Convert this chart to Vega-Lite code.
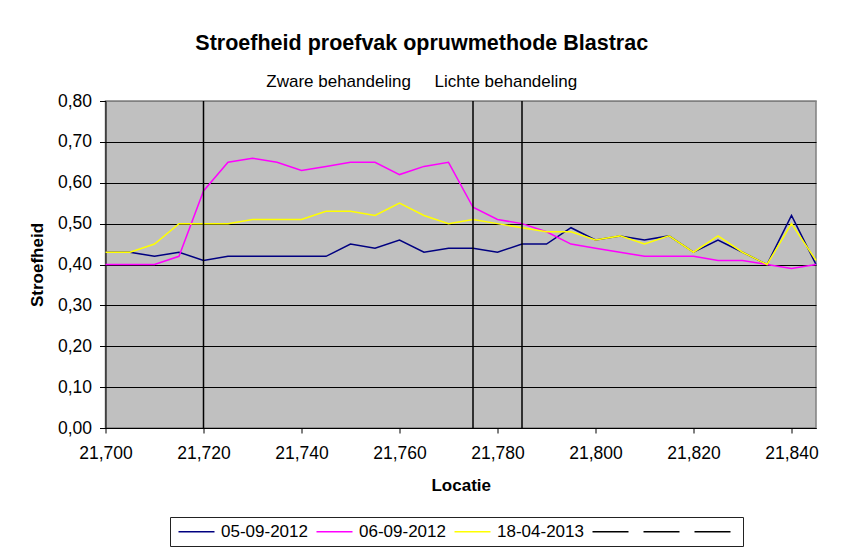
{
  "$schema": "https://vega.github.io/schema/vega-lite/v6.json",
  "autosize": "none",
  "width": 710.5,
  "height": 327,
  "padding": {"left": 105.5, "top": 101, "right": 29, "bottom": 122},
  "background": "white",
  "config": {
    "font": "Liberation Sans",
    "view": {"fill": "#c0c0c0", "stroke": "#808080", "strokeWidth": 1.5}
  },
  "title": {
    "text": "Stroefheid proefvak opruwmethode Blastrac",
    "subtitle": "Zware behandeling\u00a0\u00a0\u00a0\u00a0\u00a0Lichte behandeling",
    "anchor": "middle",
    "frame": "group",
    "dx": -39,
    "font": "Liberation Sans",
    "fontSize": 21.5,
    "fontWeight": "bold",
    "color": "black",
    "subtitleFont": "Liberation Sans",
    "subtitleFontSize": 17,
    "subtitleColor": "black",
    "subtitlePadding": 20,
    "offset": 2
  },
  "layer": [
    {
      "data": {"values": [
        {"Locatie": 21700, "Stroefheid": 0.43, "serie": "05-09-2012"},
        {"Locatie": 21705, "Stroefheid": 0.43, "serie": "05-09-2012"},
        {"Locatie": 21710, "Stroefheid": 0.42, "serie": "05-09-2012"},
        {"Locatie": 21715, "Stroefheid": 0.43, "serie": "05-09-2012"},
        {"Locatie": 21720, "Stroefheid": 0.41, "serie": "05-09-2012"},
        {"Locatie": 21725, "Stroefheid": 0.42, "serie": "05-09-2012"},
        {"Locatie": 21730, "Stroefheid": 0.42, "serie": "05-09-2012"},
        {"Locatie": 21735, "Stroefheid": 0.42, "serie": "05-09-2012"},
        {"Locatie": 21740, "Stroefheid": 0.42, "serie": "05-09-2012"},
        {"Locatie": 21745, "Stroefheid": 0.42, "serie": "05-09-2012"},
        {"Locatie": 21750, "Stroefheid": 0.45, "serie": "05-09-2012"},
        {"Locatie": 21755, "Stroefheid": 0.44, "serie": "05-09-2012"},
        {"Locatie": 21760, "Stroefheid": 0.46, "serie": "05-09-2012"},
        {"Locatie": 21765, "Stroefheid": 0.43, "serie": "05-09-2012"},
        {"Locatie": 21770, "Stroefheid": 0.44, "serie": "05-09-2012"},
        {"Locatie": 21775, "Stroefheid": 0.44, "serie": "05-09-2012"},
        {"Locatie": 21780, "Stroefheid": 0.43, "serie": "05-09-2012"},
        {"Locatie": 21785, "Stroefheid": 0.45, "serie": "05-09-2012"},
        {"Locatie": 21790, "Stroefheid": 0.45, "serie": "05-09-2012"},
        {"Locatie": 21795, "Stroefheid": 0.49, "serie": "05-09-2012"},
        {"Locatie": 21800, "Stroefheid": 0.46, "serie": "05-09-2012"},
        {"Locatie": 21805, "Stroefheid": 0.47, "serie": "05-09-2012"},
        {"Locatie": 21810, "Stroefheid": 0.46, "serie": "05-09-2012"},
        {"Locatie": 21815, "Stroefheid": 0.47, "serie": "05-09-2012"},
        {"Locatie": 21820, "Stroefheid": 0.43, "serie": "05-09-2012"},
        {"Locatie": 21825, "Stroefheid": 0.46, "serie": "05-09-2012"},
        {"Locatie": 21830, "Stroefheid": 0.43, "serie": "05-09-2012"},
        {"Locatie": 21835, "Stroefheid": 0.40, "serie": "05-09-2012"},
        {"Locatie": 21840, "Stroefheid": 0.52, "serie": "05-09-2012"},
        {"Locatie": 21845, "Stroefheid": 0.40, "serie": "05-09-2012"},
        {"Locatie": 21700, "Stroefheid": 0.40, "serie": "06-09-2012"},
        {"Locatie": 21705, "Stroefheid": 0.40, "serie": "06-09-2012"},
        {"Locatie": 21710, "Stroefheid": 0.40, "serie": "06-09-2012"},
        {"Locatie": 21715, "Stroefheid": 0.42, "serie": "06-09-2012"},
        {"Locatie": 21720, "Stroefheid": 0.58, "serie": "06-09-2012"},
        {"Locatie": 21725, "Stroefheid": 0.65, "serie": "06-09-2012"},
        {"Locatie": 21730, "Stroefheid": 0.66, "serie": "06-09-2012"},
        {"Locatie": 21735, "Stroefheid": 0.65, "serie": "06-09-2012"},
        {"Locatie": 21740, "Stroefheid": 0.63, "serie": "06-09-2012"},
        {"Locatie": 21745, "Stroefheid": 0.64, "serie": "06-09-2012"},
        {"Locatie": 21750, "Stroefheid": 0.65, "serie": "06-09-2012"},
        {"Locatie": 21755, "Stroefheid": 0.65, "serie": "06-09-2012"},
        {"Locatie": 21760, "Stroefheid": 0.62, "serie": "06-09-2012"},
        {"Locatie": 21765, "Stroefheid": 0.64, "serie": "06-09-2012"},
        {"Locatie": 21770, "Stroefheid": 0.65, "serie": "06-09-2012"},
        {"Locatie": 21775, "Stroefheid": 0.54, "serie": "06-09-2012"},
        {"Locatie": 21780, "Stroefheid": 0.51, "serie": "06-09-2012"},
        {"Locatie": 21785, "Stroefheid": 0.50, "serie": "06-09-2012"},
        {"Locatie": 21790, "Stroefheid": 0.48, "serie": "06-09-2012"},
        {"Locatie": 21795, "Stroefheid": 0.45, "serie": "06-09-2012"},
        {"Locatie": 21800, "Stroefheid": 0.44, "serie": "06-09-2012"},
        {"Locatie": 21805, "Stroefheid": 0.43, "serie": "06-09-2012"},
        {"Locatie": 21810, "Stroefheid": 0.42, "serie": "06-09-2012"},
        {"Locatie": 21815, "Stroefheid": 0.42, "serie": "06-09-2012"},
        {"Locatie": 21820, "Stroefheid": 0.42, "serie": "06-09-2012"},
        {"Locatie": 21825, "Stroefheid": 0.41, "serie": "06-09-2012"},
        {"Locatie": 21830, "Stroefheid": 0.41, "serie": "06-09-2012"},
        {"Locatie": 21835, "Stroefheid": 0.40, "serie": "06-09-2012"},
        {"Locatie": 21840, "Stroefheid": 0.39, "serie": "06-09-2012"},
        {"Locatie": 21845, "Stroefheid": 0.40, "serie": "06-09-2012"},
        {"Locatie": 21700, "Stroefheid": 0.43, "serie": "18-04-2013"},
        {"Locatie": 21705, "Stroefheid": 0.43, "serie": "18-04-2013"},
        {"Locatie": 21710, "Stroefheid": 0.45, "serie": "18-04-2013"},
        {"Locatie": 21715, "Stroefheid": 0.50, "serie": "18-04-2013"},
        {"Locatie": 21720, "Stroefheid": 0.50, "serie": "18-04-2013"},
        {"Locatie": 21725, "Stroefheid": 0.50, "serie": "18-04-2013"},
        {"Locatie": 21730, "Stroefheid": 0.51, "serie": "18-04-2013"},
        {"Locatie": 21735, "Stroefheid": 0.51, "serie": "18-04-2013"},
        {"Locatie": 21740, "Stroefheid": 0.51, "serie": "18-04-2013"},
        {"Locatie": 21745, "Stroefheid": 0.53, "serie": "18-04-2013"},
        {"Locatie": 21750, "Stroefheid": 0.53, "serie": "18-04-2013"},
        {"Locatie": 21755, "Stroefheid": 0.52, "serie": "18-04-2013"},
        {"Locatie": 21760, "Stroefheid": 0.55, "serie": "18-04-2013"},
        {"Locatie": 21765, "Stroefheid": 0.52, "serie": "18-04-2013"},
        {"Locatie": 21770, "Stroefheid": 0.50, "serie": "18-04-2013"},
        {"Locatie": 21775, "Stroefheid": 0.51, "serie": "18-04-2013"},
        {"Locatie": 21780, "Stroefheid": 0.50, "serie": "18-04-2013"},
        {"Locatie": 21785, "Stroefheid": 0.49, "serie": "18-04-2013"},
        {"Locatie": 21790, "Stroefheid": 0.48, "serie": "18-04-2013"},
        {"Locatie": 21795, "Stroefheid": 0.48, "serie": "18-04-2013"},
        {"Locatie": 21800, "Stroefheid": 0.46, "serie": "18-04-2013"},
        {"Locatie": 21805, "Stroefheid": 0.47, "serie": "18-04-2013"},
        {"Locatie": 21810, "Stroefheid": 0.45, "serie": "18-04-2013"},
        {"Locatie": 21815, "Stroefheid": 0.47, "serie": "18-04-2013"},
        {"Locatie": 21820, "Stroefheid": 0.43, "serie": "18-04-2013"},
        {"Locatie": 21825, "Stroefheid": 0.47, "serie": "18-04-2013"},
        {"Locatie": 21830, "Stroefheid": 0.43, "serie": "18-04-2013"},
        {"Locatie": 21835, "Stroefheid": 0.40, "serie": "18-04-2013"},
        {"Locatie": 21840, "Stroefheid": 0.50, "serie": "18-04-2013"},
        {"Locatie": 21845, "Stroefheid": 0.41, "serie": "18-04-2013"}
      ]},
      "mark": {"type": "line", "strokeWidth": 1.5},
      "encoding": {
        "x": {
          "field": "Locatie", "type": "quantitative",
          "scale": {"domain": [21700, 21845], "nice": false, "zero": false},
          "axis": {
            "values": [21700, 21720, 21740, 21760, 21780, 21800, 21820, 21840],
            "format": ",d",
            "grid": false,
            "domainColor": "black",
            "domainWidth": 1,
            "tickColor": "black",
            "tickSize": 5,
            "labelFontSize": 17.5,
            "labelColor": "black",
            "labelPadding": 11,
            "labelFlush": false,
            "title": "Locatie",
            "titleFontSize": 17,
            "titleFontWeight": "bold",
            "titleColor": "black",
            "titlePadding": 16
          }
        },
        "y": {
          "field": "Stroefheid", "type": "quantitative",
          "scale": {"domain": [0, 0.8], "nice": false},
          "axis": {
            "values": [0, 0.1, 0.2, 0.3, 0.4, 0.5, 0.6, 0.7, 0.8],
            "labelExpr": "replace(format(datum.value, '.2f'), '.', ',')",
            "grid": true,
            "gridColor": {"condition": {"test": "datum.value >= 0.79", "value": "#808080"}, "value": "black"},
            "gridWidth": 1.2,
            "gridOpacity": 1,
            "domainColor": "black",
            "domainWidth": 1,
            "tickColor": "black",
            "tickSize": 6,
            "labelFontSize": 17.5,
            "labelColor": "black",
            "labelPadding": 8,
            "labelFlush": false,
            "title": "Stroefheid",
            "titleFontSize": 17,
            "titleFontWeight": "bold",
            "titleColor": "black",
            "titlePadding": 11
          }
        },
        "color": {
          "field": "serie", "type": "nominal",
          "scale": {
            "domain": ["05-09-2012", "06-09-2012", "18-04-2013", "r1", "r2", "r3"],
            "range": ["#000080", "#ff00ff", "#ffff00", "#000000", "#000000", "#000000"]
          },
          "legend": {
            "title": null,
            "orient": "none",
            "legendX": 64.5,
            "legendY": 416,
            "direction": "horizontal",
            "symbolType": "M-1,0H5",
            "symbolSize": 144,
            "symbolStrokeWidth": 1.5,
            "symbolFillColor": "transparent",
            "labelFontSize": 17,
            "labelColor": "black",
            "labelOffset": 28,
            "columnPadding": 5,
            "padding": 6,
            "strokeColor": "#222222",
            "labelExpr": "length(datum.label) < 3 ? '' : datum.label"
          }
        }
      }
    },
    {
      "data": {"values": [
        {"Locatie": 21720, "serie": "r1"},
        {"Locatie": 21775, "serie": "r2"},
        {"Locatie": 21785, "serie": "r3"}
      ]},
      "mark": {"type": "rule", "strokeWidth": 1.5},
      "encoding": {
        "x": {"field": "Locatie", "type": "quantitative"},
        "color": {"field": "serie", "type": "nominal"}
      }
    }
  ]
}
